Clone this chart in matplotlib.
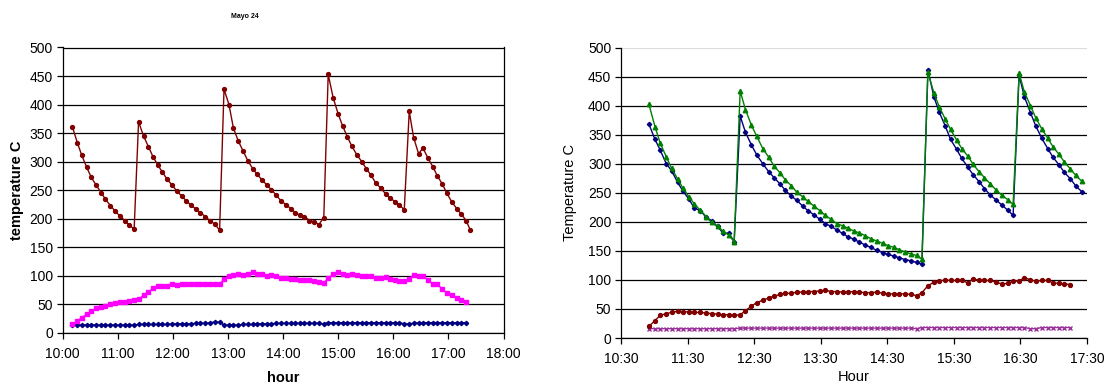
import matplotlib
matplotlib.use("Agg")
import matplotlib.pyplot as plt
from matplotlib.ticker import FixedLocator, FuncFormatter

plt.rcParams['font.family'] = ['Liberation Sans', 'DejaVu Sans']

# ---------------- Left chart (Mayo 24) ----------------
left_hours = [10.18, 10.27, 10.35, 10.44, 10.52, 10.61, 10.70, 10.78, 10.87, 10.95,
              11.04, 11.13, 11.21, 11.30, 11.38, 11.47, 11.56, 11.64, 11.73, 11.81,
              11.90, 11.99, 12.07, 12.16, 12.24, 12.33, 12.42, 12.50, 12.59, 12.67,
              12.76, 12.85, 12.93, 13.02, 13.10, 13.19, 13.28, 13.36, 13.45, 13.53,
              13.62, 13.71, 13.79, 13.88, 13.96, 14.05, 14.14, 14.22, 14.31, 14.39,
              14.48, 14.57, 14.65, 14.74, 14.82, 14.91, 15.00, 15.08, 15.17, 15.25,
              15.34, 15.43, 15.51, 15.60, 15.68, 15.77, 15.86, 15.94, 16.03, 16.11,
              16.20, 16.29, 16.37, 16.46, 16.54, 16.63, 16.72, 16.80, 16.89, 16.97,
              17.06, 17.15, 17.23, 17.32, 17.40]

left_red = [361, 333, 311, 290, 273, 259, 246, 234, 223, 214, 205, 197, 189, 182,
            370, 345, 326, 309, 294, 282, 269, 259, 249, 240, 232, 224, 217, 211, 204, 197, 191, 180,
            427, 400, 359, 336, 318, 302, 288, 278, 268, 259, 251, 241, 232, 225, 218, 211, 206, 204,
            197, 195, 190, 202,
            453, 412, 384, 363, 343, 327, 312, 300, 288, 276, 263, 254, 244, 237, 230, 224, 216,
            388, 342, 314, 324, 306, 291, 275, 261, 245, 230, 218, 209, 197, 180]

left_pink = [15, 21, 27, 33, 38, 43, 46, 48, 51, 53, 54, 55, 56, 57, 59, 66, 72, 78, 82, 82,
             83, 85, 84, 86, 85, 86, 85, 86, 85, 85, 85, 85, 95, 100, 102, 103, 102, 103, 106, 103,
             103, 100, 101, 100, 97, 97, 95, 95, 93, 93, 93, 91, 89, 88, 96, 103, 106, 104, 102, 104,
             102, 100, 100, 99, 97, 96, 98, 95, 92, 91, 91, 95, 102, 100, 100, 93, 85, 85, 77, 70,
             66, 62, 58, 54]

left_blue = [14, 14, 14, 14, 14, 14, 14, 14, 14, 14, 14, 14, 14, 14, 15, 15, 15, 15, 15, 15,
             15, 16, 16, 16, 16, 16, 17, 17, 17, 18, 19, 19, 14, 14, 14, 14, 15, 15, 15, 16,
             16, 16, 16, 17, 17, 17, 17, 17, 17, 17, 17, 17, 17, 16, 18, 18, 18, 18, 18, 18,
             18, 18, 18, 18, 18, 18, 18, 18, 18, 18, 16, 16, 17, 18, 18, 18, 18, 18, 18, 18,
             18, 18, 18, 18]

left_xticks = [10, 11, 12, 13, 14, 15, 16, 17, 18]

# ---------------- Right chart ----------------
right_hours = [10.92, 11.01, 11.09, 11.18, 11.26, 11.35, 11.43, 11.52, 11.60, 11.69,
               11.78, 11.86, 11.95, 12.03, 12.12, 12.20, 12.29, 12.37, 12.46, 12.54,
               12.63, 12.72, 12.80, 12.89, 12.97, 13.06, 13.14, 13.23, 13.31, 13.40,
               13.49, 13.57, 13.66, 13.74, 13.83, 13.91, 14.00, 14.08, 14.17, 14.25,
               14.34, 14.43, 14.51, 14.60, 14.68, 14.77, 14.85, 14.94, 15.02, 15.11,
               15.20, 15.28, 15.37, 15.45, 15.54, 15.62, 15.71, 15.79, 15.88, 15.96,
               16.05, 16.14, 16.22, 16.31, 16.39, 16.48, 16.56, 16.65, 16.73, 16.82,
               16.91, 16.99, 17.08, 17.16, 17.25, 17.33, 17.42]

right_blue = [368, 342, 323, 300, 288, 268, 253, 239, 224, 219, 208, 202, 192, 181, 180, 166,
              382, 354, 332, 315, 300, 286, 276, 265, 254, 244, 237, 227, 219, 212, 204, 197, 192, 186,
              180, 174, 170, 165, 160, 156, 151, 147, 144, 141, 138, 135, 133, 130, 127,
              462, 415, 389, 365, 342, 325, 309, 294, 281, 269, 257, 246, 237, 229, 220, 211,
              452, 415, 388, 365, 344, 326, 311, 298, 285, 274, 262, 252]

right_green = [402, 364, 335, 312, 292, 274, 258, 243, 231, 220, 209, 199, 192, 184, 177, 166,
               425, 393, 366, 347, 326, 311, 296, 284, 272, 262, 251, 243, 235, 227, 219, 211, 204, 197,
               193, 189, 184, 181, 176, 171, 167, 163, 159, 156, 152, 148, 145, 142, 136,
               457, 422, 398, 377, 359, 341, 326, 313, 299, 286, 276, 265, 254, 246, 238, 230,
               456, 423, 400, 379, 360, 344, 329, 316, 303, 291, 280, 270]

right_red = [20, 30, 39, 42, 44, 46, 45, 45, 44, 44, 43, 42, 41, 40, 40, 39, 40, 47, 55, 61,
             65, 69, 72, 75, 77, 77, 79, 79, 80, 80, 81, 82, 80, 80, 79, 79, 80, 79, 78, 78,
             79, 77, 76, 76, 76, 76, 75, 73, 78, 90, 96, 98, 100, 99, 99, 99, 95, 102, 99, 99,
             99, 96, 93, 94, 98, 98, 104, 100, 98, 99, 99, 95, 94, 93, 92]

right_purple = [16, 16, 16, 16, 16, 16, 16, 16, 16, 16, 16, 16, 16, 16, 16, 16, 17, 17, 17, 17,
                17, 17, 17, 17, 17, 17, 17, 17, 17, 17, 17, 17, 17, 17, 17, 17, 17, 17, 17, 17,
                17, 17, 17, 17, 17, 17, 17, 16, 18, 18, 18, 18, 18, 18, 18, 18, 18, 18, 18, 18,
                18, 18, 18, 18, 18, 18, 18, 16, 16, 18, 18, 18, 18, 18, 18]

right_xticks = [10.5, 11.5, 12.5, 13.5, 14.5, 15.5, 16.5, 17.5]
yticks = [0, 50, 100, 150, 200, 250, 300, 350, 400, 450, 500]


def hhmm(x, pos=None):
    h = int(x)
    m = int(round((x - h) * 60))
    return f"{h}:{m:02d}"


W, H = 1104, 383
fig = plt.figure(figsize=(W / 100, H / 100), dpi=100)

ax1 = fig.add_axes([62.5 / W, (H - 333.0) / H, (503.5 - 62.5) / W, (333.0 - 47.5) / H])
ax2 = fig.add_axes([621.0 / W, (H - 338.0) / H, (1087.0 - 621.0) / W, (338.0 - 47.5) / H])

navy = '#000080'
dred = '#800000'
magenta = '#FF00FF'
green = '#008000'
purple = '#993399'

# Left
ax1.plot(left_hours[:len(left_blue)], left_blue, color=navy, lw=1.0, marker='D', ms=2.2)
ax1.plot(left_hours[:len(left_pink)], left_pink, color=magenta, lw=1.0, marker='s', ms=3.2)
ax1.plot(left_hours, left_red, color=dred, lw=1.0, marker='o', ms=2.8)

ax1.set_xlim(10, 18)
ax1.set_ylim(0, 500)
ax1.xaxis.set_major_locator(FixedLocator(left_xticks))
ax1.xaxis.set_major_formatter(FuncFormatter(hhmm))
ax1.yaxis.set_major_locator(FixedLocator(yticks))
ax1.grid(axis='y', color='black', lw=0.9)
ax1.set_axisbelow(True)
for s in ax1.spines.values():
    s.set_color('black')
    s.set_linewidth(0.9)
ax1.tick_params(axis='both', direction='out', length=4, width=0.9, labelsize=10, colors='black')
ax1.tick_params(axis='y', pad=3)
ax1.tick_params(axis='x', pad=6)
ax1.set_xlabel('hour', fontsize=10.5, fontweight='bold', labelpad=7)
ax1.set_ylabel('temperature C', fontsize=10.5, fontweight='bold', labelpad=4)
fig.text(245 / W, 1 - 16 / H, 'Mayo 24', fontsize=5, fontweight='bold', ha='center', va='center')

# Right
ax2.plot(right_hours[:len(right_purple)], right_purple, color=purple, lw=1.0, marker='x', ms=3, mew=1)
ax2.plot(right_hours[:len(right_red)], right_red, color=dred, lw=1.0, marker='o', ms=2.8)
ax2.plot(right_hours, right_blue, color=navy, lw=1.0, marker='D', ms=2.2)
ax2.plot(right_hours, right_green, color=green, lw=1.0, marker='^', ms=3.2)

ax2.set_xlim(10.5, 17.5)
ax2.set_ylim(0, 500)
ax2.xaxis.set_major_locator(FixedLocator(right_xticks))
ax2.xaxis.set_major_formatter(FuncFormatter(hhmm))
ax2.yaxis.set_major_locator(FixedLocator(yticks))
ax2.grid(axis='y', color='black', lw=0.9)
ax2.set_axisbelow(True)
ax2.spines['right'].set_visible(False)
ax2.spines['top'].set_visible(False)
for s in ('left', 'bottom'):
    ax2.spines[s].set_color('black')
    ax2.spines[s].set_linewidth(0.9)
ax2.tick_params(axis='both', direction='out', length=4, width=0.9, labelsize=10, colors='black')
ax2.tick_params(axis='y', pad=3)
ax2.tick_params(axis='x', pad=6)
ax2.set_xlabel('Hour', fontsize=10.5, labelpad=3)
ax2.set_ylabel('Temperature C', fontsize=10.5, labelpad=8)
for gl, v in zip(ax2.get_ygridlines(), yticks):
    if v == 500:
        gl.set_color('#dddddd')

fig.savefig('out.png', dpi=100)
